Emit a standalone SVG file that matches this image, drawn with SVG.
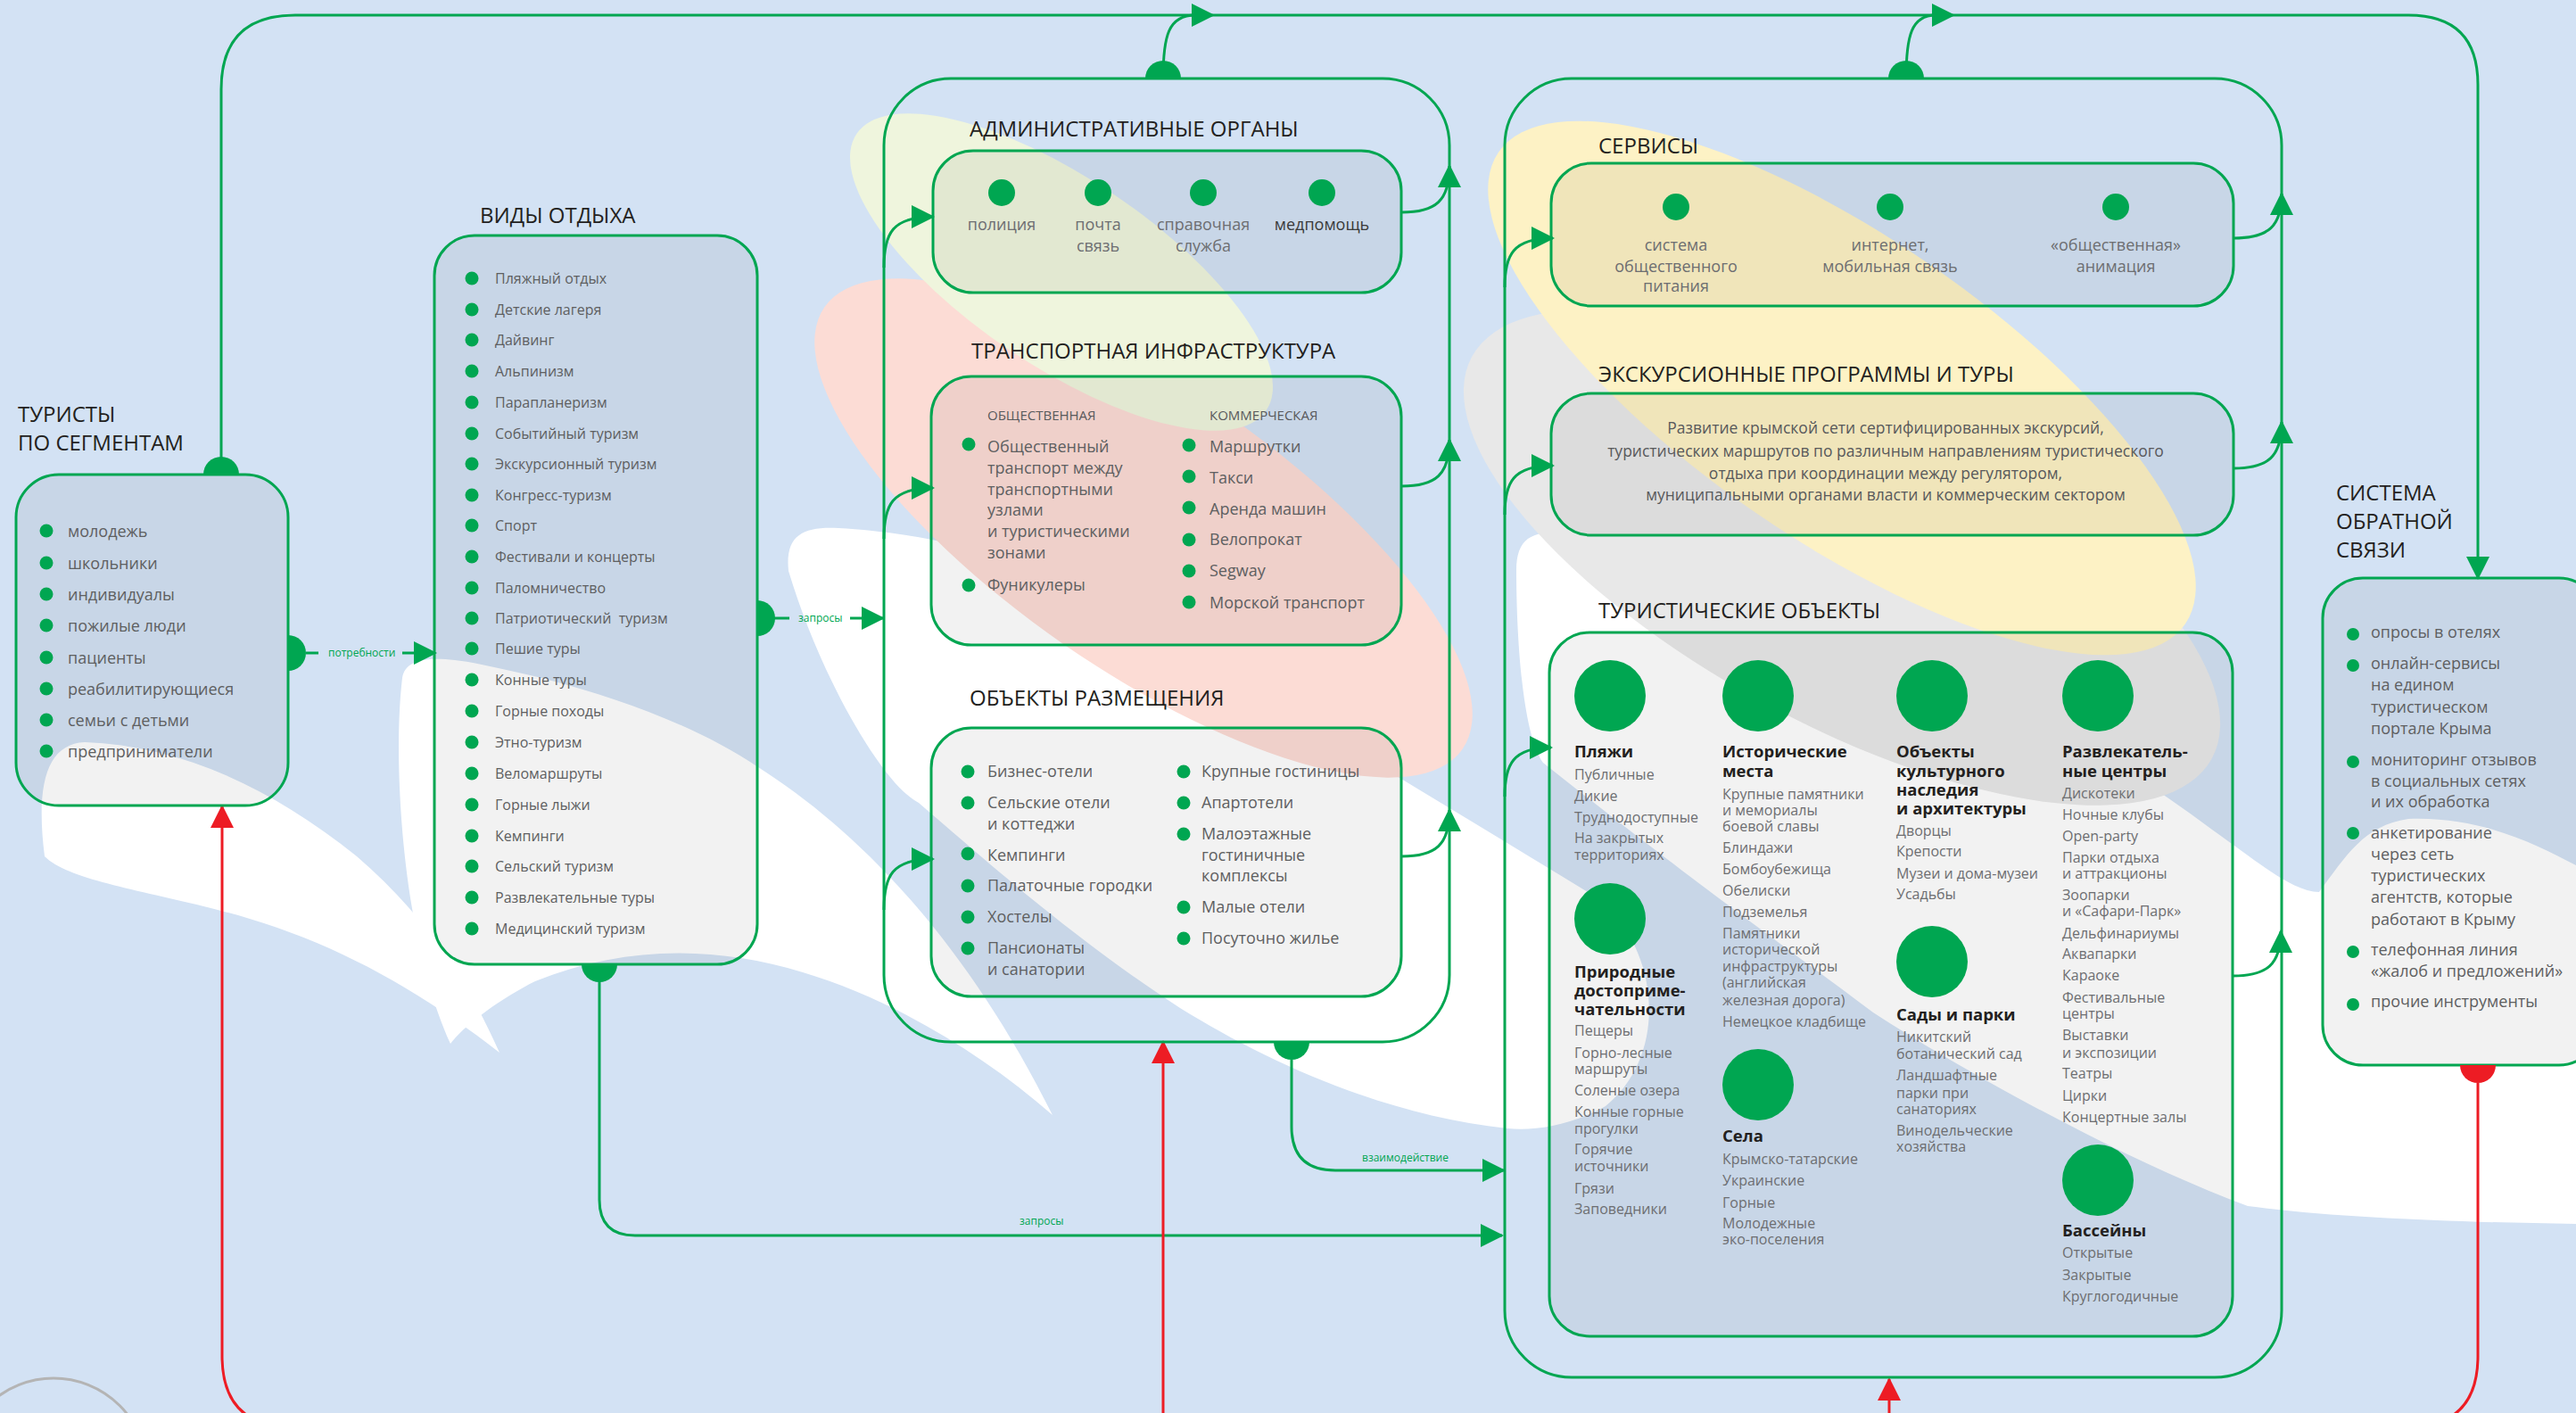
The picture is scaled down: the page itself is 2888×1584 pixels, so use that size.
<svg xmlns="http://www.w3.org/2000/svg" width="2888" height="1584" viewBox="0 0 2888 1584">
<defs>
<style>
.ttl{font-family:"Open Sans","Noto Sans",sans-serif;font-size:24px;fill:#231f20}
.li{font-family:"Open Sans","Noto Sans",sans-serif;font-size:18px;fill:#5e5f61}
.lt{font-family:"Open Sans","Noto Sans",sans-serif;font-size:16px;fill:#5e5f61}
.lm{font-family:"Open Sans","Noto Sans",sans-serif;font-size:18px;fill:#5e5f61}
.lc{font-family:"Open Sans","Noto Sans",sans-serif;font-size:18px;fill:#6d6e71;text-anchor:middle}
.sub{font-family:"Open Sans","Noto Sans",sans-serif;font-size:15px;fill:#58595b}
.ob{font-family:"Open Sans","Noto Sans",sans-serif;font-size:18.5px;font-weight:bold;fill:#231f20}
.oi{font-family:"Open Sans","Noto Sans",sans-serif;font-size:16px;fill:#6d6e71}
.ex{font-family:"Open Sans","Noto Sans",sans-serif;font-size:17.5px;fill:#58595b;text-anchor:middle}
.cl{font-family:"Open Sans","Noto Sans",sans-serif;font-size:12px;fill:#00a651}
.box{fill:#000;fill-opacity:0.05;stroke:#00a651;stroke-width:3}
.outer{fill:none;stroke:#00a651;stroke-width:3}
.g{fill:none;stroke:#00a651;stroke-width:3}
.r{fill:none;stroke:#ed1c24;stroke-width:3}
.dot{fill:#00a651}
.rd{fill:#ed1c24}
</style>
<marker id="ag" viewBox="0 0 26 26" refX="24" refY="13" markerWidth="26" markerHeight="26" markerUnits="userSpaceOnUse" orient="auto"><path d="M0,0 L26,13 L0,26 Z" fill="#00a651"/></marker>
<marker id="ar" viewBox="0 0 26 26" refX="24" refY="13" markerWidth="26" markerHeight="26" markerUnits="userSpaceOnUse" orient="auto"><path d="M0,0 L26,13 L0,26 Z" fill="#ed1c24"/></marker>
</defs>

<g id="background">
<rect x="0" y="0" width="2888" height="1584" fill="#d3e2f4"/>
<path d="M50,960 C40,880 52,834 95,832 C200,836 300,880 400,960 C470,1020 520,1090 560,1180 C470,1110 380,1060 280,1030 C180,1000 80,990 50,960 Z" fill="#ffffff"/>
<path d="M451,760 C455,735 490,735 540,745 C640,765 760,800 850,860 C960,930 1080,1050 1180,1250 C1100,1180 1000,1120 900,1090 C800,1060 700,1060 600,1100 C560,1120 520,1150 505,1170 C450,1050 440,850 451,760 Z" fill="#ffffff"/>
<path d="M884,640 C880,600 900,590 940,592 C1030,597 1150,620 1250,680 C1400,770 1600,890 1780,1000 C1860,1050 1875,1180 1800,1240 C1760,1262 1720,1268 1690,1265 C1550,1250 1420,1190 1323,1130 C1200,1050 1100,960 1030,900 C990,880 920,760 884,640 Z" fill="#ffffff"/>
<path d="M1700,640 C1700,600 1720,595 1760,596 C1950,610 2250,760 2480,930 C2530,965 2570,1000 2600,1000 C2630,960 2650,925 2700,918 C2780,915 2840,945 2888,970 L2888,1372 C2750,1370 2620,1365 2520,1352 C2380,1300 2200,1200 2100,1135 C2000,1060 1900,990 1730,855 C1705,820 1700,700 1700,640 Z" fill="#ffffff"/>
<ellipse cx="2065" cy="625" rx="472" ry="185" transform="rotate(28.5 2065 625)" fill="#e8e8e8"/>
<ellipse cx="1282" cy="592" rx="435" ry="158" transform="rotate(34.7 1282 592)" fill="#fcdcd5"/>
<ellipse cx="1190" cy="305" rx="277" ry="105" transform="rotate(34 1190 305)" fill="#eff5dd"/>
<ellipse cx="2065" cy="435" rx="467" ry="170" transform="rotate(34.5 2065 435)" fill="#fdf2c5"/>
<circle cx="60" cy="1650" r="105" fill="none" stroke="#b4b4b4" stroke-width="3"/>
</g>

<g id="connectors">
<path class="g" d="M248,532 L248,100 Q248,17 331,17 L1360,17" marker-end="url(#ag)"/>
<path class="g" d="M1304,88 C1304,40 1310,17 1340,17"/>
<path class="g" d="M1360,17 L2190,17" marker-end="url(#ag)"/>
<path class="g" d="M2137,88 C2137,40 2143,17 2170,17"/>
<path class="g" d="M2190,17 L2700,17 Q2778,17 2778,95 L2778,648" marker-end="url(#ag)"/>
<path class="g" d="M343,732 L357,732 M451,732 L488,732" marker-end="url(#ag)"/>
<path class="g" d="M868,693 L885,693 M953,693 L990,693" marker-end="url(#ag)"/>
<path class="g" d="M672,1100 L672,1345 Q672,1385 712,1385 L1684,1385" marker-end="url(#ag)"/>
<path class="g" d="M1448,1188 L1448,1263 Q1448,1312 1497,1312 L1686,1312" marker-end="url(#ag)"/>
<path class="g" d="M991,300 C991,262 1000,243 1046,243" marker-end="url(#ag)"/>
<path class="g" d="M991,604 C991,566 1000,547 1046,547" marker-end="url(#ag)"/>
<path class="g" d="M991,1020 C991,982 1000,963 1046,963" marker-end="url(#ag)"/>
<path class="g" d="M1571,238 C1610,238 1625,225 1625,186" marker-end="url(#ag)"/>
<path class="g" d="M1571,545 C1610,545 1625,532 1625,493" marker-end="url(#ag)"/>
<path class="g" d="M1571,960 C1610,960 1625,947 1625,908" marker-end="url(#ag)"/>
<path class="g" d="M1687,322 C1687,286 1696,267 1741,267" marker-end="url(#ag)"/>
<path class="g" d="M1687,577 C1687,541 1696,522 1741,522" marker-end="url(#ag)"/>
<path class="g" d="M1687,893 C1687,857 1696,838 1739,838" marker-end="url(#ag)"/>
<path class="g" d="M2504,267 C2543,267 2558,254 2558,217" marker-end="url(#ag)"/>
<path class="g" d="M2504,525 C2543,525 2558,512 2558,473" marker-end="url(#ag)"/>
<path class="g" d="M2503,1094 C2542,1094 2557,1081 2557,1044" marker-end="url(#ag)"/>
<path class="r" d="M2778,1214 L2778,1520 Q2778,1600 2698,1600 L329,1600 Q249,1600 249,1520 L249,904" marker-end="url(#ar)"/>
<path class="r" d="M1304,1600 L1304,1168" marker-end="url(#ar)"/>
<path class="r" d="M2118,1600 L2118,1546" marker-end="url(#ar)"/>
<text class="cl" x="368" y="736">потребности</text>
<text class="cl" x="895" y="697">запросы</text>
<text class="cl" x="1143" y="1373">запросы</text>
<text class="cl" x="1527" y="1302">взаимодействие</text>
</g>

<g id="tourists">
<rect class="box" x="18" y="532" width="305" height="371" rx="48"/>
<path class="dot" d="M228,532 A20,20 0 0 1 268,532 Z"/>
<path class="dot" d="M323,712 A20,20 0 0 1 323,752 Z"/>
<text class="ttl" x="20" y="473">ТУРИСТЫ</text>
<text class="ttl" x="20" y="505">ПО СЕГМЕНТАМ</text>
<g class="dot"><circle cx="52" cy="595" r="7.5"/><circle cx="52" cy="631" r="7.5"/><circle cx="52" cy="666" r="7.5"/><circle cx="52" cy="701" r="7.5"/><circle cx="52" cy="737" r="7.5"/><circle cx="52" cy="772" r="7.5"/><circle cx="52" cy="807" r="7.5"/><circle cx="52" cy="842" r="7.5"/></g>
<text class="li" x="76" y="602">молодежь</text>
<text class="li" x="76" y="638">школьники</text>
<text class="li" x="76" y="673">индивидуалы</text>
<text class="li" x="76" y="708">пожилые люди</text>
<text class="li" x="76" y="744">пациенты</text>
<text class="li" x="76" y="779">реабилитирующиеся</text>
<text class="li" x="76" y="814">семьи с детьми</text>
<text class="li" x="76" y="849">предприниматели</text>
</g>

<g id="types">
<rect class="box" x="487" y="264" width="362" height="817" rx="45"/>
<path class="dot" d="M849,673 A20,20 0 0 1 849,713 Z"/>
<path class="dot" d="M692,1081 A20,20 0 0 1 652,1081 Z"/>
<text class="ttl" x="538" y="250">ВИДЫ ОТДЫХА</text>
<g class="dot"><circle cx="529" cy="312" r="7.5"/><circle cx="529" cy="347" r="7.5"/><circle cx="529" cy="381" r="7.5"/><circle cx="529" cy="416" r="7.5"/><circle cx="529" cy="451" r="7.5"/><circle cx="529" cy="486" r="7.5"/><circle cx="529" cy="520" r="7.5"/><circle cx="529" cy="555" r="7.5"/><circle cx="529" cy="589" r="7.5"/><circle cx="529" cy="624" r="7.5"/><circle cx="529" cy="659" r="7.5"/><circle cx="529" cy="693" r="7.5"/><circle cx="529" cy="727" r="7.5"/><circle cx="529" cy="762" r="7.5"/><circle cx="529" cy="797" r="7.5"/><circle cx="529" cy="832" r="7.5"/><circle cx="529" cy="867" r="7.5"/><circle cx="529" cy="902" r="7.5"/><circle cx="529" cy="937" r="7.5"/><circle cx="529" cy="971" r="7.5"/><circle cx="529" cy="1006" r="7.5"/><circle cx="529" cy="1041" r="7.5"/></g>
<text class="lt" x="555" y="318">Пляжный отдых</text>
<text class="lt" x="555" y="353">Детские лагеря</text>
<text class="lt" x="555" y="387">Дайвинг</text>
<text class="lt" x="555" y="422">Альпинизм</text>
<text class="lt" x="555" y="457">Парапланеризм</text>
<text class="lt" x="555" y="492">Событийный туризм</text>
<text class="lt" x="555" y="526">Экскурсионный туризм</text>
<text class="lt" x="555" y="561">Конгресс-туризм</text>
<text class="lt" x="555" y="595">Спорт</text>
<text class="lt" x="555" y="630">Фестивали и концерты</text>
<text class="lt" x="555" y="665">Паломничество</text>
<text class="lt" x="555" y="699">Патриотический&#160; туризм</text>
<text class="lt" x="555" y="733">Пешие туры</text>
<text class="lt" x="555" y="768">Конные туры</text>
<text class="lt" x="555" y="803">Горные походы</text>
<text class="lt" x="555" y="838">Этно-туризм</text>
<text class="lt" x="555" y="873">Веломаршруты</text>
<text class="lt" x="555" y="908">Горные лыжи</text>
<text class="lt" x="555" y="943">Кемпинги</text>
<text class="lt" x="555" y="977">Сельский туризм</text>
<text class="lt" x="555" y="1012">Развлекательные туры</text>
<text class="lt" x="555" y="1047">Медицинский туризм</text>
</g>

<g id="admin-outer">
<rect class="outer" x="991" y="88" width="634" height="1080" rx="75"/>
<path class="dot" d="M1284,88 A20,20 0 0 1 1324,88 Z"/>
<path class="dot" d="M1468,1168 A20,20 0 0 1 1428,1168 Z"/>
</g>

<g id="admin">
<text class="ttl" x="1087" y="153">АДМИНИСТРАТИВНЫЕ ОРГАНЫ</text>
<rect class="box" x="1046" y="169" width="525" height="159" rx="45"/>
<g class="dot"><circle cx="1123" cy="216" r="15"/><circle cx="1231" cy="216" r="15"/><circle cx="1349" cy="216" r="15"/><circle cx="1482" cy="216" r="15"/></g>
<text class="lc" x="1123" y="258">полиция</text>
<text class="lc" x="1231" y="258">почта</text>
<text class="lc" x="1231" y="282">связь</text>
<text class="lc" x="1349" y="258">справочная</text>
<text class="lc" x="1349" y="282">служба</text>
<text class="lc" x="1482" y="258" style="fill:#3a3a3a">медпомощь</text>
</g>

<g id="transport">
<text class="ttl" x="1089" y="402">ТРАНСПОРТНАЯ ИНФРАСТРУКТУРА</text>
<rect class="box" x="1044" y="422" width="527" height="301" rx="45"/>
<text class="sub" x="1107" y="471">ОБЩЕСТВЕННАЯ</text>
<text class="sub" x="1356" y="471">КОММЕРЧЕСКАЯ</text>
<g class="dot"><circle cx="1086" cy="498" r="7.5"/><circle cx="1086" cy="656" r="7.5"/><circle cx="1333" cy="499" r="7.5"/><circle cx="1333" cy="534" r="7.5"/><circle cx="1333" cy="569" r="7.5"/><circle cx="1333" cy="605" r="7.5"/><circle cx="1333" cy="640" r="7.5"/><circle cx="1333" cy="675" r="7.5"/></g>
<text class="lm" x="1107" y="507">Общественный</text>
<text class="lm" x="1107" y="531">транспорт между</text>
<text class="lm" x="1107" y="555">транспортными</text>
<text class="lm" x="1107" y="578">узлами</text>
<text class="lm" x="1107" y="602">и туристическими</text>
<text class="lm" x="1107" y="626">зонами</text>
<text class="lm" x="1107" y="662">Фуникулеры</text>
<text class="lm" x="1356" y="507">Маршрутки</text>
<text class="lm" x="1356" y="542">Такси</text>
<text class="lm" x="1356" y="577">Аренда машин</text>
<text class="lm" x="1356" y="611">Велопрокат</text>
<text class="lm" x="1356" y="646">Segway</text>
<text class="lm" x="1356" y="682">Морской транспорт</text>
</g>

<g id="accommodation">
<text class="ttl" x="1087" y="791">ОБЪЕКТЫ РАЗМЕЩЕНИЯ</text>
<rect class="box" x="1044" y="816" width="527" height="301" rx="45"/>
<g class="dot"><circle cx="1085" cy="865" r="7.5"/><circle cx="1085" cy="900" r="7.5"/><circle cx="1085" cy="957" r="7.5"/><circle cx="1085" cy="993" r="7.5"/><circle cx="1085" cy="1028" r="7.5"/><circle cx="1085" cy="1063" r="7.5"/><circle cx="1327" cy="865" r="7.5"/><circle cx="1327" cy="900" r="7.5"/><circle cx="1327" cy="935" r="7.5"/><circle cx="1327" cy="1017" r="7.5"/><circle cx="1327" cy="1052" r="7.5"/></g>
<text class="lm" x="1107" y="871">Бизнес-отели</text>
<text class="lm" x="1107" y="906">Сельские отели</text>
<text class="lm" x="1107" y="930">и коттеджи</text>
<text class="lm" x="1107" y="965">Кемпинги</text>
<text class="lm" x="1107" y="999">Палаточные городки</text>
<text class="lm" x="1107" y="1034">Хостелы</text>
<text class="lm" x="1107" y="1069">Пансионаты</text>
<text class="lm" x="1107" y="1093">и санатории</text>
<text class="lm" x="1347" y="871">Крупные гостиницы</text>
<text class="lm" x="1347" y="906">Апартотели</text>
<text class="lm" x="1347" y="941">Малоэтажные</text>
<text class="lm" x="1347" y="965">гостиничные</text>
<text class="lm" x="1347" y="988">комплексы</text>
<text class="lm" x="1347" y="1023">Малые отели</text>
<text class="lm" x="1347" y="1058">Посуточно жилье</text>
</g>

<g id="services-outer">
<rect class="outer" x="1687" y="88" width="871" height="1456" rx="75"/>
<path class="dot" d="M2117,88 A20,20 0 0 1 2157,88 Z"/>
</g>

<g id="services">
<text class="ttl" x="1792" y="172">СЕРВИСЫ</text>
<rect class="box" x="1739" y="183" width="765" height="160" rx="45"/>
<g class="dot"><circle cx="1879" cy="232" r="15"/><circle cx="2119" cy="232" r="15"/><circle cx="2372" cy="232" r="15"/></g>
<text class="lc" x="1879" y="281">система</text>
<text class="lc" x="1879" y="305">общественного</text>
<text class="lc" x="1879" y="327">питания</text>
<text class="lc" x="2119" y="281">интернет,</text>
<text class="lc" x="2119" y="305">мобильная связь</text>
<text class="lc" x="2372" y="281">«общественная»</text>
<text class="lc" x="2372" y="305">анимация</text>
</g>

<g id="excursions">
<text class="ttl" x="1792" y="428">ЭКСКУРСИОННЫЕ ПРОГРАММЫ И ТУРЫ</text>
<rect class="box" x="1739" y="441" width="765" height="159" rx="45"/>
<text class="ex" x="2114" y="486">Развитие крымской сети сертифицированных экскурсий,</text>
<text class="ex" x="2114" y="512">туристических маршрутов по различным направлениям туристического</text>
<text class="ex" x="2114" y="537">отдыха при координации между регулятором,</text>
<text class="ex" x="2114" y="561">муниципальными органами власти и коммерческим сектором</text>
</g>

<g id="tourist-objects">
<text class="ttl" x="1792" y="693">ТУРИСТИЧЕСКИЕ ОБЪЕКТЫ</text>
<rect class="box" x="1737" y="709" width="766" height="789" rx="45"/>
<g class="dot"><circle cx="1805" cy="780" r="40"/><circle cx="1805" cy="1030" r="40"/><circle cx="1971" cy="780" r="40"/><circle cx="1971" cy="1216" r="40"/><circle cx="2166" cy="780" r="40"/><circle cx="2166" cy="1078" r="40"/><circle cx="2352" cy="780" r="40"/><circle cx="2352" cy="1323" r="40"/></g>
<text class="ob" x="1765" y="849">Пляжи</text>
<text class="oi" x="1765" y="874">Публичные</text>
<text class="oi" x="1765" y="898">Дикие</text>
<text class="oi" x="1765" y="922">Труднодоступные</text>
<text class="oi" x="1765" y="945">На закрытых</text>
<text class="oi" x="1765" y="964">территориях</text>
<text class="ob" x="1765" y="1096">Природные</text>
<text class="ob" x="1765" y="1117">достоприме-</text>
<text class="ob" x="1765" y="1138">чательности</text>
<text class="oi" x="1765" y="1161">Пещеры</text>
<text class="oi" x="1765" y="1186">Горно-лесные</text>
<text class="oi" x="1765" y="1204">маршруты</text>
<text class="oi" x="1765" y="1228">Соленые озера</text>
<text class="oi" x="1765" y="1252">Конные горные</text>
<text class="oi" x="1765" y="1271">прогулки</text>
<text class="oi" x="1765" y="1294">Горячие</text>
<text class="oi" x="1765" y="1313">источники</text>
<text class="oi" x="1765" y="1338">Грязи</text>
<text class="oi" x="1765" y="1361">Заповедники</text>
<text class="ob" x="1931" y="849">Исторические</text>
<text class="ob" x="1931" y="871">места</text>
<text class="oi" x="1931" y="896">Крупные памятники</text>
<text class="oi" x="1931" y="914">и мемориалы</text>
<text class="oi" x="1931" y="932">боевой славы</text>
<text class="oi" x="1931" y="956">Блиндажи</text>
<text class="oi" x="1931" y="980">Бомбоубежища</text>
<text class="oi" x="1931" y="1004">Обелиски</text>
<text class="oi" x="1931" y="1028">Подземелья</text>
<text class="oi" x="1931" y="1052">Памятники</text>
<text class="oi" x="1931" y="1070">исторической</text>
<text class="oi" x="1931" y="1089">инфраструктуры</text>
<text class="oi" x="1931" y="1107">(английская</text>
<text class="oi" x="1931" y="1127">железная дорога)</text>
<text class="oi" x="1931" y="1151">Немецкое кладбище</text>
<text class="ob" x="1931" y="1280">Села</text>
<text class="oi" x="1931" y="1305">Крымско-татарские</text>
<text class="oi" x="1931" y="1329">Украинские</text>
<text class="oi" x="1931" y="1354">Горные</text>
<text class="oi" x="1931" y="1377">Молодежные</text>
<text class="oi" x="1931" y="1395">эко-поселения</text>
<text class="ob" x="2126" y="849">Объекты</text>
<text class="ob" x="2126" y="871">культурного</text>
<text class="ob" x="2126" y="892">наследия</text>
<text class="ob" x="2126" y="913">и архитектуры</text>
<text class="oi" x="2126" y="937">Дворцы</text>
<text class="oi" x="2126" y="960">Крепости</text>
<text class="oi" x="2126" y="985">Музеи и дома-музеи</text>
<text class="oi" x="2126" y="1008">Усадьбы</text>
<text class="ob" x="2126" y="1144">Сады и парки</text>
<text class="oi" x="2126" y="1168">Никитский</text>
<text class="oi" x="2126" y="1187">ботанический сад</text>
<text class="oi" x="2126" y="1211">Ландшафтные</text>
<text class="oi" x="2126" y="1231">парки при</text>
<text class="oi" x="2126" y="1249">санаториях</text>
<text class="oi" x="2126" y="1273">Винодельческие</text>
<text class="oi" x="2126" y="1291">хозяйства</text>
<text class="ob" x="2312" y="849">Развлекатель-</text>
<text class="ob" x="2312" y="871">ные центры</text>
<text class="oi" x="2312" y="895">Дискотеки</text>
<text class="oi" x="2312" y="919">Ночные клубы</text>
<text class="oi" x="2312" y="943">Open-party</text>
<text class="oi" x="2312" y="967">Парки отдыха</text>
<text class="oi" x="2312" y="985">и аттракционы</text>
<text class="oi" x="2312" y="1009">Зоопарки</text>
<text class="oi" x="2312" y="1027">и «Сафари-Парк»</text>
<text class="oi" x="2312" y="1052">Дельфинариумы</text>
<text class="oi" x="2312" y="1075">Аквапарки</text>
<text class="oi" x="2312" y="1099">Караоке</text>
<text class="oi" x="2312" y="1124">Фестивальные</text>
<text class="oi" x="2312" y="1142">центры</text>
<text class="oi" x="2312" y="1166">Выставки</text>
<text class="oi" x="2312" y="1186">и экспозиции</text>
<text class="oi" x="2312" y="1209">Театры</text>
<text class="oi" x="2312" y="1234">Цирки</text>
<text class="oi" x="2312" y="1258">Концертные залы</text>
<text class="ob" x="2312" y="1386">Бассейны</text>
<text class="oi" x="2312" y="1410">Открытые</text>
<text class="oi" x="2312" y="1435">Закрытые</text>
<text class="oi" x="2312" y="1459">Круглогодичные</text>
</g>

<g id="feedback">
<text class="ttl" x="2619" y="561">СИСТЕМА</text>
<text class="ttl" x="2619" y="593">ОБРАТНОЙ</text>
<text class="ttl" x="2619" y="625">СВЯЗИ</text>
<rect class="box" x="2604" y="648" width="310" height="546" rx="45"/>
<path class="rd" d="M2798,1194 A20,20 0 0 1 2758,1194 Z"/>
<g class="dot"><circle cx="2638" cy="711" r="7"/><circle cx="2638" cy="746" r="7"/><circle cx="2638" cy="854" r="7"/><circle cx="2638" cy="934" r="7"/><circle cx="2638" cy="1067" r="7"/><circle cx="2638" cy="1126" r="7"/></g>
<text class="lm" x="2658" y="715">опросы в отелях</text>
<text class="lm" x="2658" y="750">онлайн-сервисы</text>
<text class="lm" x="2658" y="774">на едином</text>
<text class="lm" x="2658" y="799">туристическом</text>
<text class="lm" x="2658" y="823">портале Крыма</text>
<text class="lm" x="2658" y="858">мониторинг отзывов</text>
<text class="lm" x="2658" y="882">в социальных сетях</text>
<text class="lm" x="2658" y="905">и их обработка</text>
<text class="lm" x="2658" y="940">анкетирование</text>
<text class="lm" x="2658" y="964">через сеть</text>
<text class="lm" x="2658" y="988">туристических</text>
<text class="lm" x="2658" y="1012">агентств, которые</text>
<text class="lm" x="2658" y="1037">работают в Крыму</text>
<text class="lm" x="2658" y="1071">телефонная линия</text>
<text class="lm" x="2658" y="1095">«жалоб и предложений»</text>
<text class="lm" x="2658" y="1129">прочие инструменты</text>
</g>
</svg>
